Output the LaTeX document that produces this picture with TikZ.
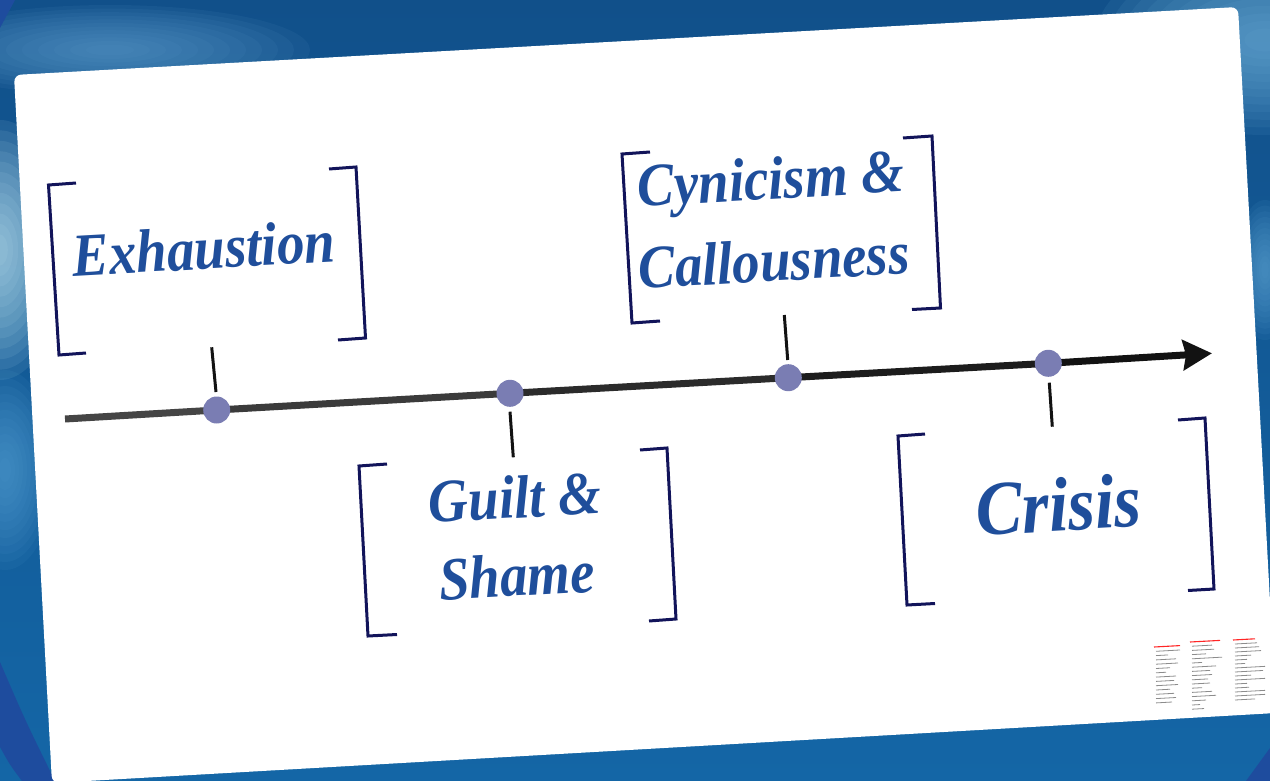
\documentclass[tikz,border=0pt]{standalone}
\usepackage{fontspec}
\newfontfamily\labfont[FakeStretch=0.9]{Liberation Serif}
\usetikzlibrary{arrows.meta}
\definecolor{bgtop}{HTML}{11508A}
\definecolor{bgbot}{HTML}{1466A6}
\definecolor{royal}{HTML}{1E4C9E}
\definecolor{txtblue}{HTML}{1F4E9B}
\definecolor{navy}{HTML}{12145A}
\definecolor{dotc}{HTML}{7A7DB3}
\definecolor{glowA}{RGB}{95,158,205}
\definecolor{glowB}{RGB}{200,236,248}
\definecolor{glowC}{RGB}{85,160,212}
\definecolor{glowD}{RGB}{115,182,222}
\definecolor{glowE}{RGB}{95,165,212}
\newcommand{\glowAt}[5]{%
  \foreach \sc in {1,0.92,...,0.1}
    \fill[color=#5, opacity=0.09] (#1,#2) ellipse ({#3*\sc} and {#4*\sc});}
\tikzset{
  lab/.style={font=\labfont\bfseries\itshape\fontsize{61}{66}\selectfont, text=txtblue, inner sep=0pt, rotate=3.2, anchor=base},
  bigLab/.style={lab, font=\labfont\bfseries\itshape\fontsize{77}{82}\selectfont},
  brk/.style={draw=navy, line width=3pt, line join=miter},
  tick/.style={draw=black!93, line width=3pt},
  tdot/.style={circle, fill=dotc, minimum size=27pt, inner sep=0pt},
  tl/.style={line width=7pt},
  minitxt/.style={draw=black!45, line width=0.8pt},
  minihead/.style={draw=red!85, line width=1.1pt}
}
\begin{document}
\begin{tikzpicture}[x=1pt,y=-1pt]
\useasboundingbox (0,0) rectangle (1270,781);
% background
\shade[top color=bgtop, bottom color=bgbot] (0,0) rectangle (1270,781);
\begin{scope}
\clip (0,0) rectangle (1270,781);
\glowAt{110}{50}{200}{45}{glowA}
\glowAt{0}{250}{65}{130}{glowB}
\glowAt{5}{470}{50}{100}{glowC}
\glowAt{1265}{40}{170}{95}{glowD}
\glowAt{1265}{270}{30}{70}{glowE}
\fill[royal] (0,662) .. controls (25,720) .. (55,781) -- (22,781) .. controls (10,765) .. (0,747) -- cycle;
\fill[royal] (1246,781) -- (1270,748) -- (1270,781) -- cycle;
\fill[royal] (0,0) -- (15,0) -- (0,28) -- cycle;
\end{scope}
% card
\fill[white, rounded corners=7pt] (14,75) -- (1238,7) -- (1276,713) -- (52,783) -- cycle;

% timeline coordinates
\coordinate (s) at (65,419);
\coordinate (c1) at (216.7,410);
\coordinate (c2) at (510,393.3);
\coordinate (c3) at (788.3,377.7);
\coordinate (c4) at (1048.3,363.3);
\coordinate (e) at (1212,353.3);
\draw[tl, color=black!73] (s) -- (c1);
\draw[tl, color=black!77] (c1) -- (c2);
\draw[tl, color=black!83] (c2) -- (c3);
\draw[tl, color=black!89] (c3) -- (c4);
\draw[tl, color=black!93, -{Stealth[length=29pt, width=30pt, inset=3pt]}] (c4) -- (e);
\node[tdot] (d1) at (c1) {};
\node[tdot] (d2) at (c2) {};
\node[tdot] (d3) at (c3) {};
\node[tdot] (d4) at (c4) {};

% ticks
\coordinate (t1a) at (211.7,347.3); \coordinate (t1b) at (216,392);
\coordinate (t2a) at (510,411.7);   \coordinate (t2b) at (513.3,457.3);
\coordinate (t3a) at (784.3,315);   \coordinate (t3b) at (787.7,360);
\coordinate (t4a) at (1049.3,382.7);\coordinate (t4b) at (1052.3,426.7);
\draw[tick] (t1a) -- (t1b);
\draw[tick] (t2a) -- (t2b);
\draw[tick] (t3a) -- (t3b);
\draw[tick] (t4a) -- (t4b);

% brackets
\draw[brk] (76,183) -- (48.5,185) -- (59,355) -- (86,353);
\draw[brk] (329,169) -- (356,167) -- (365.5,338) -- (338,340);
\draw[brk] (650,152) -- (622,154) -- (632,323) -- (660,321);
\draw[brk] (903,138) -- (932,136) -- (940.5,308) -- (912,309.5);
\draw[brk] (387,464) -- (359,466) -- (368,636) -- (397,634.5);
\draw[brk] (640,450) -- (667,448) -- (676,619) -- (649,621);
\draw[brk] (925,434) -- (898,436) -- (907,605) -- (935,603.5);
\draw[brk] (1178,420) -- (1205,418) -- (1214,589) -- (1188,590.5);

% labels
\node[lab] (exh) at (205,269) {Exhaustion};
\node[lab] (cyn) at (772,199) {Cynicism \&};
\node[lab] (cal) at (775,281) {Callousness};
\node[lab] (gui) at (516,518) {Guilt \&};
\node[lab] (sha) at (518,596) {Shame};
\node[bigLab] (cri) at (1060,531) {Crisis};

% tiny notes (illegible in reference)
\draw[minihead] (1154,647) -- ++(26,-1.4);
\foreach \k/\l in {1/24,2/12,3/20,4/22,5/14,6/10,7/20,8/18,9/22,10/14,11/18,12/20,13/16}
  \draw[minitxt] (1156,{647+\k*4.3}) -- ++(\l,{-0.055*\l});
\draw[minihead] (1190,642) -- ++(30,-1.6);
\foreach \k/\l in {1/20,2/22,3/14,4/30,5/10,6/24,7/18,8/20,9/16,10/18,11/10,12/20,13/24,14/14,15/8,16/12}
  \draw[minitxt] (1192,{642+\k*4.2}) -- ++(\l,{-0.055*\l});
\draw[minihead] (1233,640) -- ++(22,-1.2);
\foreach \k/\l in {1/22,2/24,3/26,4/16,5/12,6/10,7/30,8/28,9/16,10/30,11/12,12/14,13/30,14/30,15/20}
  \draw[minitxt] (1235,{640+\k*4.0}) -- ++(\l,{-0.055*\l});
\end{tikzpicture}
\end{document}
